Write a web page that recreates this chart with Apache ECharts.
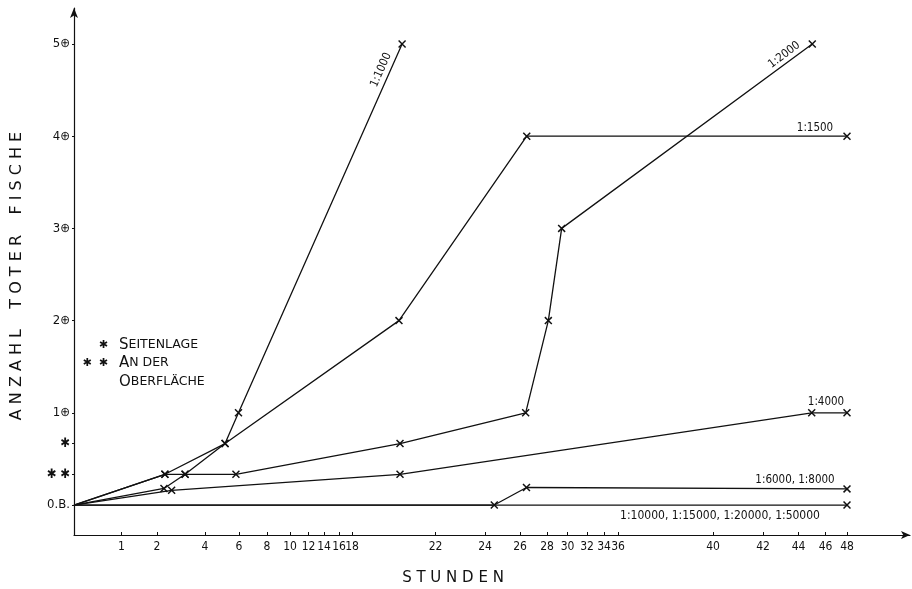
<!DOCTYPE html>
<html><head><meta charset="utf-8">
<script src="https://cdn.jsdelivr.net/npm/echarts@6/dist/echarts.min.js"></script>
<style>html,body{margin:0;padding:0;background:#fff}#c{width:912px;height:589px}</style>
</head><body><div id="c"></div>
<script>
// Non-linear time axis of the original (hour knots -> axis scale units)
const axisHours = [0,1,2,4,6,8,10,12,14,16,18,22,24,26,28,30,32,34,36,40,42,44,46,48];
const axisUnits = [0,47.5,83,131,165,193,216,234.5,250,265,278,361.5,411,446,473,493.5,513,530,544,639,689,724.5,751.5,773];
const xTickHours = [1,2,4,6,8,10,12,14,16,18,22,24,26,28,30,32,34,36,40,42,44,46,48];
const yTickValues = [0, 1/3, 2/3, 1, 2, 3, 4, 5];
const yTickLabels = ['0.B.', '✱ ✱', '✱', '1⊕', '2⊕', '3⊕', '4⊕', '5⊕'];

const seriesNames = ['1:1000','1:1500','1:2000','1:4000','1:6000, 1:8000','1:10000, 1:15000, 1:20000, 1:50000'];
const hours1000 = [0, 2.29, 3.17, 5.18, 5.97, 20.4];
const dead1000  = [0, 0.18, 1/3, 2/3, 1, 5];
const hours1500 = [0, 2.33, 5.18, 20.25, 26.5, 48];
const dead1500  = [0, 1/3, 2/3, 2, 4, 4];
const hours2000 = [0, 2.33, 3.17, 5.82, 20.3, 26.42, 28.13, 29.43, 45.02];
const dead2000  = [0, 1/3, 1/3, 1/3, 2/3, 1, 2, 3, 5];
const hours4000 = [0, 2.61, 20.3, 44.98, 48];
const dead4000  = [0, 0.16, 1/3, 1, 1];
const hours6000 = [0, 24.53, 26.48, 48];
const dead6000  = [0, 0, 0.19, 0.175];
const hours10000 = [0, 48];
const dead10000  = [0, 0];

const allHours = [hours1000, hours1500, hours2000, hours4000, hours6000, hours10000];
const allDead  = [dead1000, dead1500, dead2000, dead4000, dead6000, dead10000];

function hourToUnit(h) {
  const n = axisHours.length;
  let i = 0;
  if (h >= axisHours[n-1]) i = n - 2;
  else { while (i < n - 2 && h > axisHours[i+1]) i++; }
  const h0 = axisHours[i], h1 = axisHours[i+1], u0 = axisUnits[i], u1 = axisUnits[i+1];
  return u0 + (h - h0) * (u1 - u0) / (h1 - h0);
}
const xTickUnits = xTickHours.map(hourToUnit);

const FONT = "'DejaVu Sans Condensed','Liberation Sans Narrow','DejaVu Sans',sans-serif";
const X_SYMBOL = 'path://M0,1.3L1.3,0L10,8.7L8.7,10ZM8.7,0L10,1.3L1.3,10L0,8.7Z';

const chart = echarts.init(document.getElementById('c'), null, {renderer: 'canvas'});

const series = allHours.map((hs, s) => ({
  name: seriesNames[s],
  type: 'line',
  data: hs.map((h, i) => {
    const item = {value: [hourToUnit(h), allDead[s][i]]};
    if (i === 0) item.symbol = 'none';
    return item;
  }),
  symbol: X_SYMBOL,
  symbolSize: 8,
  showAllSymbol: true,
  itemStyle: {color: '#111'},
  lineStyle: {color: '#111', width: 1.3},
  emphasis: {disabled: true},
  animation: false,
  z: 3
}));

chart.setOption({
  animation: false,
  backgroundColor: '#fff',
  grid: {left: 74, right: 2, top: 8, bottom: 54},
  xAxis: {
    type: 'value', min: 0, max: 836,
    axisLine: {onZero: false, symbol: ['none', 'arrow'], symbolSize: [6, 9], lineStyle: {color: '#111', width: 1.2}},
    axisTick: {customValues: xTickUnits, length: 3, inside: true, lineStyle: {color: '#111'}},
    axisLabel: {
      customValues: xTickUnits, margin: 6, color: '#111', fontFamily: FONT, fontSize: 12,
      formatter: v => { const k = xTickUnits.findIndex(u => Math.abs(u - v) < 1e-6); return k >= 0 ? String(xTickHours[k]) : ''; }
    },
    splitLine: {show: false}
  },
  yAxis: {
    type: 'value', min: -0.325, max: 5.39,
    axisLine: {symbol: ['none', 'arrow'], symbolSize: [6, 10], lineStyle: {color: '#111', width: 1.2}},
    axisTick: {customValues: yTickValues, length: 2, lineStyle: {color: '#111'}},
    axisLabel: {
      customValues: yTickValues, margin: 4, color: '#111', fontFamily: FONT, fontSize: 13,
      formatter: v => {
        const k = yTickValues.findIndex(t => Math.abs(t - v) < 1e-6);
        return k >= 0 ? yTickLabels[k] : '';
      }
    },
    splitLine: {show: false}
  },
  series: series
});

// line labels anchored at the last point of each series
const labelSpecs = [
  {s: 0, dx: -21, dy: 26, rot: 66, size: 11.5},
  {s: 1, dx: -32, dy: -8, rot: 0, size: 11.5},
  {s: 2, dx: -28, dy: 11, rot: 37, size: 11.5},
  {s: 3, dx: -21, dy: -11, rot: 0, size: 11.5},
  {s: 4, dx: -52, dy: -9, rot: 0, size: 11.5},
  {s: 5, dx: -127, dy: 11, rot: 0, size: 12}
];
const graphics = labelSpecs.map(sp => {
  const hs = allHours[sp.s], ds = allDead[sp.s];
  const p = chart.convertToPixel({gridIndex: 0}, [hourToUnit(hs[hs.length-1]), ds[ds.length-1]]);
  return {
    type: 'text', x: p[0] + sp.dx, y: p[1] + sp.dy, rotation: sp.rot * Math.PI / 180,
    style: {text: seriesNames[sp.s], fill: '#111', font: sp.size + 'px ' + FONT, textAlign: 'center', textVerticalAlign: 'middle'}
  };
});
// axis titles
graphics.push({
  type: 'text', x: 17, y: 276, rotation: Math.PI / 2,
  style: {text: 'A N Z A H L    T O T E R    F I S C H E', fill: '#111', font: '16px DejaVu Sans', textAlign: 'center', textVerticalAlign: 'middle'}
});
graphics.push({
  type: 'text', x: 453, y: 578,
  style: {text: 'S T U N D E N', fill: '#111', font: '15px DejaVu Sans', textAlign: 'center', textVerticalAlign: 'middle'}
});
// key to the symbols
const keyRich = {b: {fontFamily: 'DejaVu Sans', fontSize: 15, fill: '#111'}, s: {fontFamily: 'DejaVu Sans', fontSize: 12.5, fill: '#111'}};
graphics.push({type: 'text', x: 108, y: 345, style: {text: '✱', font: '11px DejaVu Sans', fill: '#111', textAlign: 'right', textVerticalAlign: 'middle'}});
graphics.push({type: 'text', x: 108, y: 363, style: {text: '✱  ✱', font: '11px DejaVu Sans', fill: '#111', textAlign: 'right', textVerticalAlign: 'middle'}});
graphics.push({type: 'text', x: 119, y: 345, style: {text: '{b|S}{s|EITENLAGE}', rich: keyRich, textVerticalAlign: 'middle'}});
graphics.push({type: 'text', x: 119, y: 363, style: {text: '{b|A}{s|N DER}', rich: keyRich, textVerticalAlign: 'middle'}});
graphics.push({type: 'text', x: 119, y: 382, style: {text: '{b|O}{s|BERFLÄCHE}', rich: keyRich, textVerticalAlign: 'middle'}});

chart.setOption({graphic: graphics});
</script>
</body></html>
